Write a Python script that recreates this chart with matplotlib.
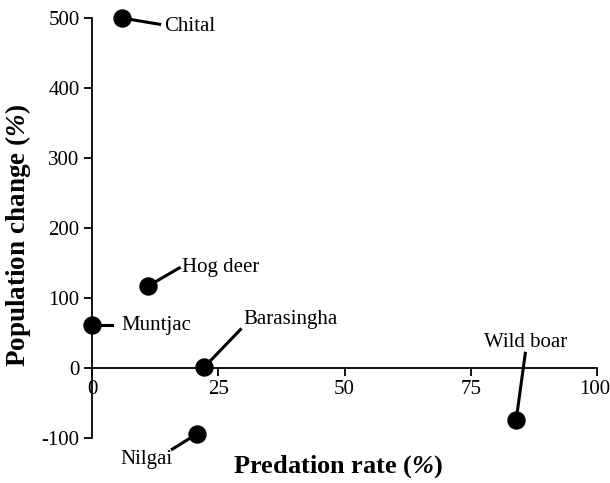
import matplotlib
matplotlib.use("Agg")
import matplotlib.pyplot as plt
import matplotlib.transforms as mtransforms

species = ["Chital", "Hog deer", "Muntjac", "Barasingha", "Nilgai", "Wild boar"]
predation = [5.9, 11.1, 0.0, 22.2, 20.8, 84.0]
pop_change = [500, 117, 61, 1, -94, -74]
label_pos = [(14.2, 488), (17.8, 143), (5.9, 61), (29.9, 69), (10.7, -131), (85.8, 37)]
leader_end = [(13.4, 491), (17.3, 143), (3.9, 61), (29.4, 55), (15.9, -116), (85.8, 21)]
label_ha = ["left", "left", "left", "left", "center", "center"]

xticks = [0, 25, 50, 75, 100]
yticks = [-100, 0, 100, 200, 300, 400, 500]

plt.rcParams['font.family'] = ['Liberation Serif', 'DejaVu Serif']
plt.rcParams['mathtext.fontset'] = 'custom'
plt.rcParams['mathtext.rm'] = 'Liberation Serif:italic:bold'
plt.rcParams['mathtext.it'] = 'Liberation Serif:italic:bold'
plt.rcParams['mathtext.bf'] = 'Liberation Serif:italic:bold'
plt.rcParams['axes.unicode_minus'] = False

fig = plt.figure(figsize=(6.10, 4.83), dpi=100)
W, H = 610, 483
ax = fig.add_axes([92 / W, (H - 438) / H, (597 - 92) / W, (438 - 18) / H])
ax.set_xlim(0, 100)
ax.set_ylim(-100, 500)

ax.spines['top'].set_visible(False)
ax.spines['right'].set_visible(False)
ax.spines['bottom'].set_position(('data', 0))
ax.spines['left'].set_position(('data', 0))
ax.spines['bottom'].set_linewidth(1.3)
ax.spines['left'].set_linewidth(1.3)
ax.set_xticks(xticks)
ax.set_xticklabels([str(t) for t in xticks])
ax.set_yticks(yticks)
ax.set_yticklabels([str(t) for t in yticks])
ax.tick_params(direction='out', length=6, width=1.3, labelsize=15, pad=3, colors='black')

# nudge the last x tick label so it stays inside the figure, as in the reference
last = ax.get_xticklabels()[-1]
last.set_transform(last.get_transform() + mtransforms.ScaledTranslation(-2.5 / 100, 0, fig.dpi_scale_trans))

for x, y, (lx, ly), (ex, ey), ha, name in zip(predation, pop_change, label_pos, leader_end, label_ha, species):
    ax.plot([x, ex], [y, ey], color='black', lw=2.2, clip_on=False, zorder=3)
    ax.text(lx, ly, name, ha=ha, va='center', fontsize=15, clip_on=False)

ax.scatter(predation, pop_change, s=150, color='black', zorder=4, clip_on=False)

fig.text(338 / W, 1 - 467 / H, r"Predation rate ($\%$)", ha='center', va='center',
         fontsize=19, fontweight='bold')
fig.text(18 / W, 1 - 235 / H, r"Population change ($\%$)", ha='center', va='center',
         fontsize=19.5, fontweight='bold', rotation=90)

fig.savefig("out.png", dpi=100)
